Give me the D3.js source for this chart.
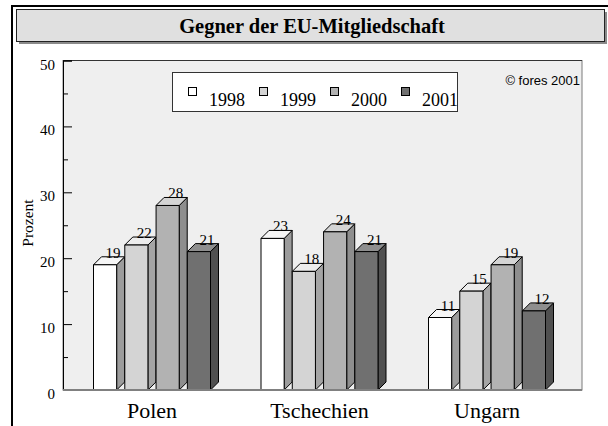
<!DOCTYPE html>
<html><head><meta charset="utf-8">
<script src="https://cdn.jsdelivr.net/npm/d3@7"></script>
<style>
html,body{margin:0;padding:0;background:#fff;}
svg{display:block;}
</style></head>
<body>
<svg id="c" width="608" height="426"></svg>
<script>
const categories = ["Polen", "Tschechien", "Ungarn"];
const years = ["1998", "1999", "2000", "2001"];
const values1998 = [19, 23, 11];
const values1999 = [22, 18, 15];
const values2000 = [28, 24, 19];
const values2001 = [21, 21, 12];
const yTicks = [0, 10, 20, 30, 40, 50];
const yMinorTicks = [5, 15, 25, 35, 45];
const title = "Gegner der EU-Mitgliedschaft";
const yLabel = "Prozent";
const credit = "© fores 2001";

const series = [values1998, values1999, values2000, values2001];
const frontCol = ["#ffffff", "#d4d4d4", "#b2b2b2", "#707070"];
const topCol = ["#f6f6f6", "#ececec", "#d4d4d4", "#8e8e8e"];
const sideCol = ["#9c9c9c", "#a4a4a4", "#8e8e8e", "#505050"];

const serif = "'Liberation Serif','Times New Roman',serif";
const svg = d3.select("#c");

// outer frame
svg.append("path").attr("d", "M12,426 V6 H620").attr("fill", "none").attr("stroke", "#000").attr("stroke-width", 2);

// title box
svg.append("rect").attr("x", 19).attr("y", 12).attr("width", 588).attr("height", 32).attr("fill", "#8a8a8a");
svg.append("rect").attr("x", 16.5).attr("y", 9.5).attr("width", 588).attr("height", 32)
  .attr("fill", "#e0e0e0").attr("stroke", "#222").attr("stroke-width", 1);
svg.append("text").attr("x", 312).attr("y", 33).attr("text-anchor", "middle")
  .attr("font-family", serif).attr("font-weight", "bold").attr("font-size", 20.5).text(title);

const plot = {l: 63, r: 582, t: 60.5, b: 390};
const y = d3.scaleLinear().domain([0, 50]).range([plot.b, plot.t]);
const x0 = d3.scaleBand().domain(categories).range([68.25, 570.75]);
const groupW = 117;
const x1 = d3.scaleBand().domain(years).range([0, groupW]).paddingInner(0.26).paddingOuter(0);
const depth = 8;

svg.append("rect").attr("x", plot.l).attr("y", plot.t).attr("width", plot.r - plot.l).attr("height", plot.b - plot.t)
  .attr("fill", "#efefef").attr("stroke", "#7a7a7a").attr("stroke-width", 1);
svg.append("line").attr("x1", plot.l).attr("x2", plot.r).attr("y1", plot.t).attr("y2", plot.t)
  .attr("stroke", "#333").attr("stroke-width", 1);

// y axis
const yAxis = d3.axisRight(y).tickValues(yTicks).tickSize(9).tickFormat("");
const ga = svg.append("g").attr("transform", `translate(${plot.l},0)`).call(yAxis);
ga.select(".domain").attr("stroke", "#000");
const yAxisMinor = d3.axisRight(y).tickValues(yMinorTicks).tickSize(5).tickFormat("");
const gm = svg.append("g").attr("transform", `translate(${plot.l},0)`).call(yAxisMinor);
gm.select(".domain").remove();
svg.selectAll(".tick line").attr("stroke", "#000");

svg.append("g").selectAll("text").data(yTicks).join("text")
  .attr("x", 55).attr("y", d => y(d) + 9).attr("text-anchor", "end")
  .attr("font-family", serif).attr("font-size", 15).text(d => d);

svg.append("text").attr("transform", "translate(33,223) rotate(-90)").attr("text-anchor", "middle")
  .attr("font-family", serif).attr("font-size", 15.5).text(yLabel);

// bars
const bars = svg.append("g");
categories.forEach((c, ci) => {
  const gx = x0(c) + (x0.bandwidth() - groupW) / 2;
  years.forEach((yr, si) => {
    const v = series[si][ci];
    const xl = gx + x1(yr), w = x1.bandwidth(), yt = y(v), yb = y(0);
    const g = bars.append("g").attr("stroke", "#000").attr("stroke-width", 1).attr("stroke-linejoin", "round");
    g.append("polygon").attr("points", [[xl + w, yt], [xl + w + depth, yt - depth], [xl + w + depth, yb - depth], [xl + w, yb]].join(" "))
      .attr("fill", sideCol[si]);
    g.append("polygon").attr("points", [[xl, yt], [xl + depth, yt - depth], [xl + w + depth, yt - depth], [xl + w, yt]].join(" "))
      .attr("fill", topCol[si]);
    g.append("rect").attr("x", xl).attr("y", yt).attr("width", w).attr("height", yb - yt).attr("fill", frontCol[si]);
    bars.append("text").attr("x", xl + w / 2 + depth).attr("y", yt - depth + 1).attr("text-anchor", "middle")
      .attr("font-family", serif).attr("font-size", 15).text(v);
  });
});

// bottom axis line
svg.append("line").attr("x1", plot.l).attr("x2", plot.r).attr("y1", plot.b).attr("y2", plot.b)
  .attr("stroke", "#808080").attr("stroke-width", 2);

// category labels
svg.append("g").selectAll("text").data(categories).join("text")
  .attr("x", d => x0(d) + x0.bandwidth() / 2).attr("y", 418).attr("text-anchor", "middle")
  .attr("font-family", serif).attr("font-size", 22).text(d => d);

// legend
svg.append("rect").attr("x", 172.5).attr("y", 72.5).attr("width", 285).attr("height", 39)
  .attr("fill", "#fff").attr("stroke", "#333").attr("stroke-width", 1);
const legX = d3.scalePoint().domain(years).range([188, 401]);
const lg = svg.append("g").selectAll("g").data(years).join("g")
  .attr("transform", d => `translate(${legX(d)},0)`);
lg.append("rect").attr("x", 0.5).attr("y", 87.5).attr("width", 8).attr("height", 8)
  .attr("fill", (d, i) => frontCol[i]).attr("stroke", "#000");
lg.append("text").attr("x", 21).attr("y", 106).attr("font-family", serif).attr("font-size", 18).text(d => d);

svg.append("text").attr("x", 580).attr("y", 85).attr("text-anchor", "end")
  .attr("font-family", "'Liberation Sans',Arial,sans-serif").attr("font-size", 13).text(credit);
</script>
</body></html>
